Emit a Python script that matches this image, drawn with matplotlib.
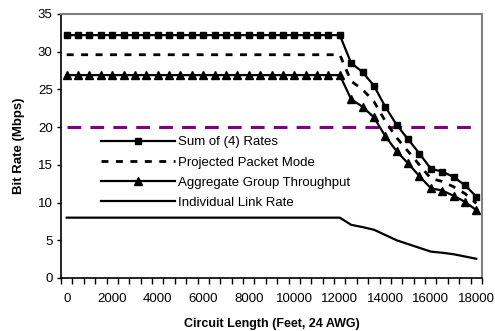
import matplotlib
matplotlib.use("Agg")
import matplotlib.pyplot as plt

plt.rcParams['font.family'] = ['Liberation Sans', 'DejaVu Sans']

lengths = list(range(0, 18001, 500))
tick_labels = [str(v) for v in range(0, 18001, 2000)]

flat_n = 25
sum_rates = [32.2] * flat_n + [28.5, 27.3, 25.5, 22.7, 20.3, 18.4, 16.5, 14.5, 14.1, 13.4, 12.3, 10.8]
projected = [29.6] * flat_n + [26.1, 25.0, 23.4, 20.8, 18.6, 16.8, 15.0, 13.2, 12.8, 12.1, 11.2, 9.9]
aggregate = [26.9] * flat_n + [23.7, 22.7, 21.3, 18.8, 16.8, 15.2, 13.5, 11.9, 11.6, 10.9, 10.1, 9.0]
individual = [8.0] * flat_n + [7.05, 6.75, 6.4, 5.7, 5.0, 4.5, 4.0, 3.5, 3.35, 3.15, 2.85, 2.55]
threshold = [20.0] * len(lengths)

fig = plt.figure(figsize=(4.95, 3.31), dpi=100)
W, H = 495, 331
L, R, T, B = 61, 482, 14, 278
ax = fig.add_axes([L / W, (H - B) / H, (R - L) / W, (B - T) / H])

x = list(range(len(lengths)))
fs = 9.5

ax.plot(x, threshold, color='#800080', lw=2.2, dashes=(4.5, 3.0), label='_nolegend_')
ax.plot(x, sum_rates, color='black', lw=1.6, marker='s', ms=4.8, label='Sum of (4) Rates')
ax.plot(x, projected, color='black', lw=2.0, dashes=(2.5, 2.7), label='Projected Packet Mode')
ax.plot(x, aggregate, color='black', lw=1.6, marker='^', ms=5.3, label='Aggregate Group Throughput')
ax.plot(x, individual, color='black', lw=1.6, label='Individual Link Rate')

ax.set_xlim(-0.5, len(lengths) - 0.5)
ax.set_ylim(0, 35)
ax.set_yticks(range(0, 36, 5))
ax.tick_params(axis='y', direction='out', length=3, width=1, labelsize=fs, pad=3)

major_pos = [i for i, v in enumerate(lengths) if v % 2000 == 0]
ax.set_xticks(major_pos)
ax.set_xticklabels(tick_labels)
ax.set_xticks([i - 0.5 for i in range(len(lengths) + 1)], minor=True)
ax.tick_params(axis='x', which='major', length=0, labelsize=fs, pad=11)
ax.tick_params(axis='x', which='minor', direction='out', length=4, width=1)

for s in ['top', 'right']:
    ax.spines[s].set_color('#808080')
    ax.spines[s].set_linewidth(1.5)
for s in ['left', 'bottom']:
    ax.spines[s].set_color('black')
    ax.spines[s].set_linewidth(1.2)

ax.set_ylabel('Bit Rate (Mbps)', fontsize=fs, fontweight='bold', labelpad=9)
ax.set_xlabel('Circuit Length (Feet, 24 AWG)', fontsize=fs - 0.5, fontweight='bold', labelpad=9)

ax.legend(loc='upper left', bbox_to_anchor=(0.095, 0.537), frameon=False, fontsize=fs,
          numpoints=1, handlelength=5.6, handletextpad=0.2, labelspacing=0.6,
          borderpad=0, borderaxespad=0)

fig.savefig('out.png', dpi=100)
